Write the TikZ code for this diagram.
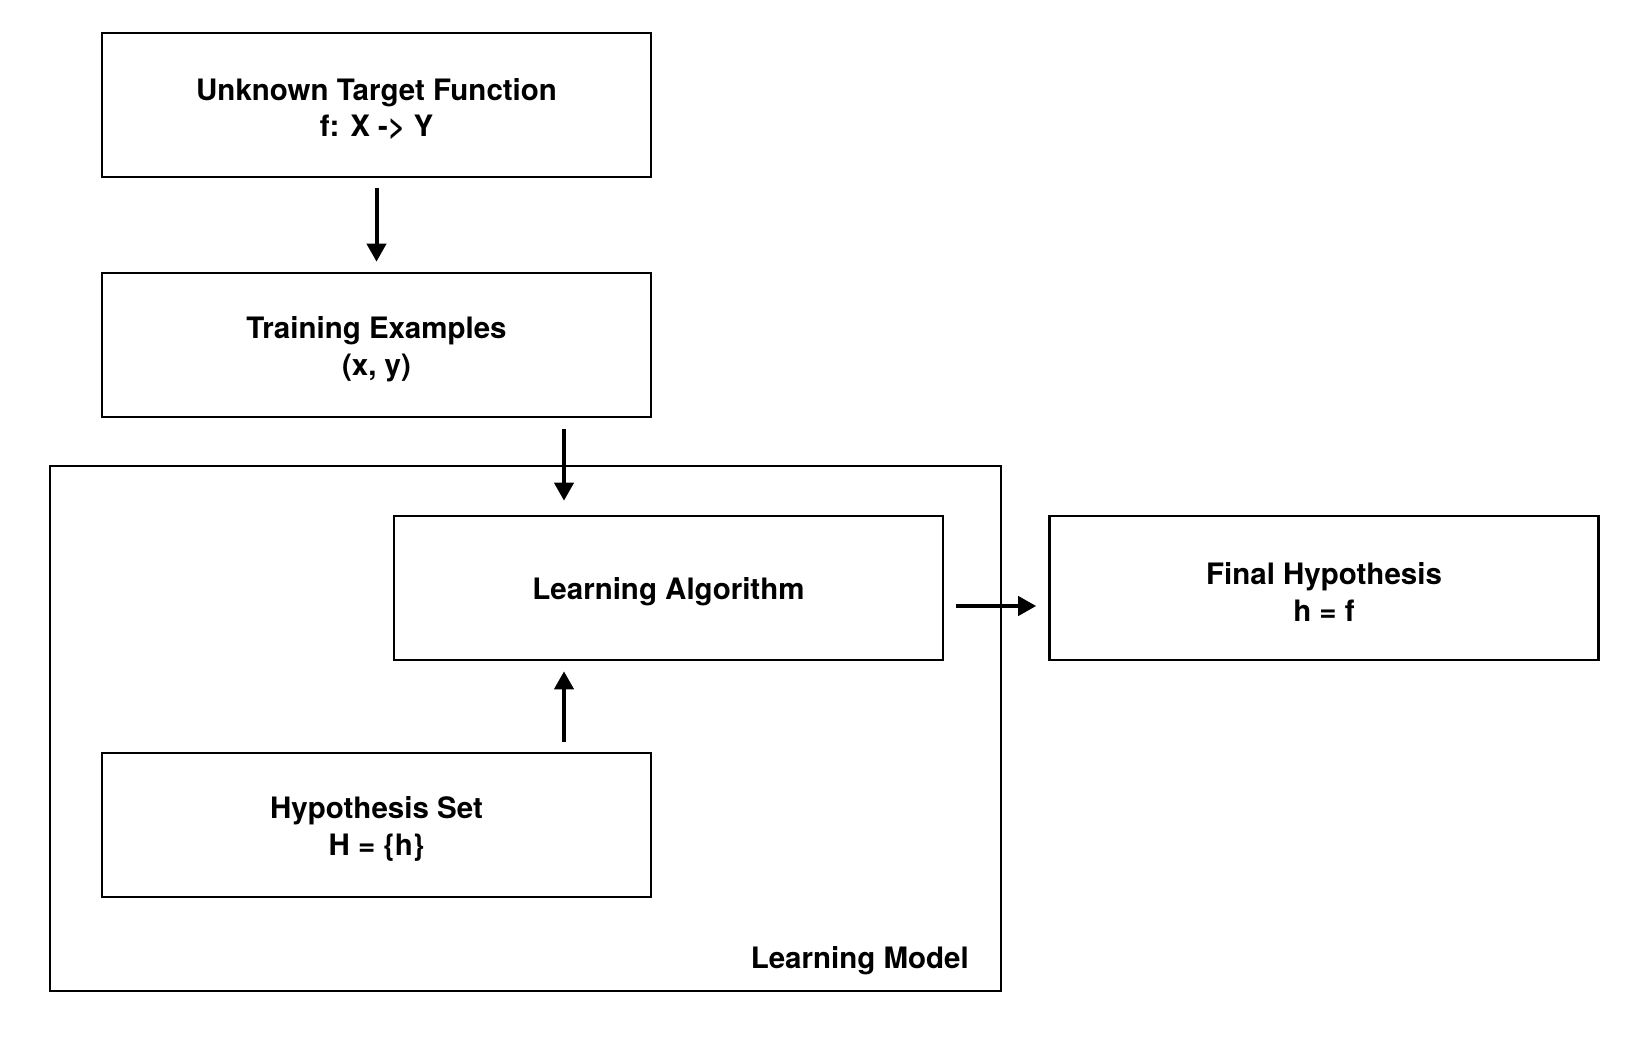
\documentclass[tikz,border=0pt]{standalone}
\usepackage{fontspec}
\setmainfont{TeX Gyre Heros}
\usetikzlibrary{arrows.meta}
\begin{document}
\begin{tikzpicture}[x=1pt,y=-1pt,
  box/.style={draw, line width=2.6pt, minimum width=549pt, minimum height=144pt, inner sep=0pt},
  txt/.style={align=center, inner sep=0pt, yshift=-4pt, font=\fontsize{29.5}{36.5}\selectfont\bfseries},
  arr/.style={line width=4pt, -{Triangle[length=18pt,width=19pt]}},
  lbl/.style={font=\fontsize{29.5}{36.5}\selectfont\bfseries, inner sep=0pt}]
\useasboundingbox (0,0) rectangle (1636,1046);
\draw[line width=2.6pt] (50,466) rectangle (1001,991);
\node[lbl, anchor=east] (lm) at (969,961) {Learning Model};
\node[box, label={[txt]center:Unknown Target Function\\f: X -> Y}] (tf) at (376.5,105) {};
\node[box, label={[txt]center:Training Examples\\(x, y)}] (te) at (376.5,345) {};
\node[box, label={[txt]center:Learning Algorithm}] (la) at (668.5,588) {};
\node[box, label={[txt]center:Hypothesis Set\\H = \{h\}}] (hs) at (376.5,825) {};
\node[box, label={[txt]center:Final Hypothesis\\h = f}] (fh) at (1324,588) {};
\coordinate (ax) at (564,0);
\coordinate (ay) at (0,606);
\draw[arr, shorten <=10pt, shorten >=10pt] (tf.south) -- (te.north);
\draw[arr, shorten <=11pt, shorten >=14pt] (te.south -| ax) -- (la.north -| ax);
\draw[arr, shorten <=10pt, shorten >=10pt] (hs.north -| ax) -- (la.south -| ax);
\draw[arr, shorten <=12pt, shorten >=12pt] (la.east |- ay) -- (fh.west |- ay);
\end{tikzpicture}
\end{document}
